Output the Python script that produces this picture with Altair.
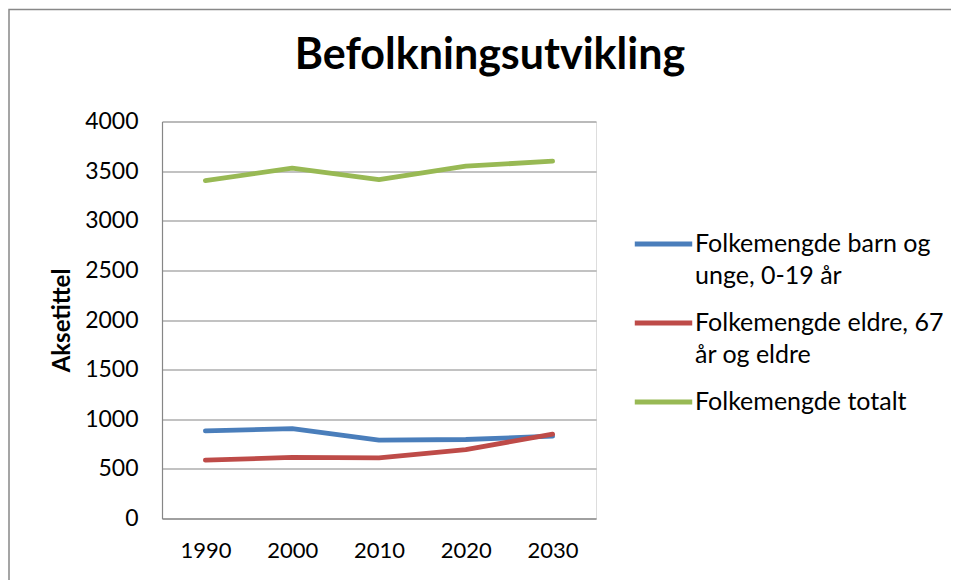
import altair as alt
import pandas as pd

years = ["1990", "2000", "2010", "2020", "2030"]
series_names = [
    "Folkemengde barn og unge, 0-19 år",
    "Folkemengde eldre, 67 år og eldre",
    "Folkemengde totalt",
]
barn_unge = [882, 906, 789, 796, 829]
eldre = [588, 615, 611, 695, 849]
totalt = [3405, 3530, 3415, 3550, 3600]
colors = ["#4A7EBB", "#BE4B48", "#98B954"]
y_ticks = [0, 500, 1000, 1500, 2000, 2500, 3000, 3500, 4000]

rows = []
for name, vals in zip(series_names, [barn_unge, eldre, totalt]):
    for yr, v in zip(years, vals):
        rows.append({"År": yr, "Serie": name, "Verdi": v})
df = pd.DataFrame(rows)

FONT = "Lato"
GRID = "#868686"

label_expr = (
    "datum.label == 'Folkemengde barn og unge, 0-19 år' ? ['Folkemengde barn og', 'unge, 0-19 år'] : "
    "datum.label == 'Folkemengde eldre, 67 år og eldre' ? ['Folkemengde eldre, 67', 'år og eldre'] : datum.label"
)

W, H = 434, 397

lines = alt.Chart(df).mark_line(strokeWidth=4.8, strokeCap="round", strokeJoin="round").encode(
    x=alt.X(
        "År:O",
        sort=years,
        scale=alt.Scale(paddingInner=0, paddingOuter=0),
        axis=alt.Axis(
            title=None, labelAngle=0, ticks=False, labelPadding=22,
            labelFont=FONT, labelFontSize=22, labelColor="black",
            domainColor=GRID, domainWidth=1.2, grid=False,
        ),
    ),
    y=alt.Y(
        "Verdi:Q",
        scale=alt.Scale(domain=[0, 4000], nice=False),
        axis=alt.Axis(
            title="Aksetittel", values=y_ticks, format="d", ticks=False, labelPadding=24,
            labelFont=FONT, labelFontSize=23, labelColor="black",
            titleFont=FONT, titleFontSize=24, titleFontWeight="bold", titleColor="black",
            titlePadding=10,
            domainColor=GRID, domainWidth=1.2, gridColor=GRID, gridWidth=1.2,
        ),
    ),
    color=alt.Color(
        "Serie:N",
        scale=alt.Scale(domain=series_names, range=colors),
        legend=alt.Legend(
            title=None, orient="none", legendX=470, legendY=91,
            symbolType="stroke", symbolSize=3300, symbolStrokeWidth=5,
            labelOffset=0, labelFont=FONT, labelFontSize=25, labelColor="black",
            labelLimit=400, labelBaseline="middle", labelExpr=label_expr,
            gridAlign="all", rowPadding=2, padding=0,
        ),
    ),
)

border = alt.Chart(pd.DataFrame({"b": [0]})).mark_rect(
    fill=None, stroke="#888888", strokeWidth=1.5
).encode(
    x=alt.value(-153), y=alt.value(-112), x2=alt.value(W + 400), y2=alt.value(H + 200)
)

chart = alt.layer(border, lines).properties(
    width=W,
    height=H,
    autosize=alt.AutoSizeParams(type="none"),
    padding={"left": 154, "top": 113.5, "right": 355, "bottom": 69.5},
    title=alt.TitleParams(
        "Befolkningsutvikling", font=FONT, fontSize=43, fontWeight="bold",
        color="black", anchor="middle", dx=111, offset=-103, baseline="alphabetic",
    ),
).configure_view(stroke=None).configure(style={"guide-label": {"lineHeight": 32}})

chart.save("out.html", embed_options={"renderer": "svg", "actions": False})
